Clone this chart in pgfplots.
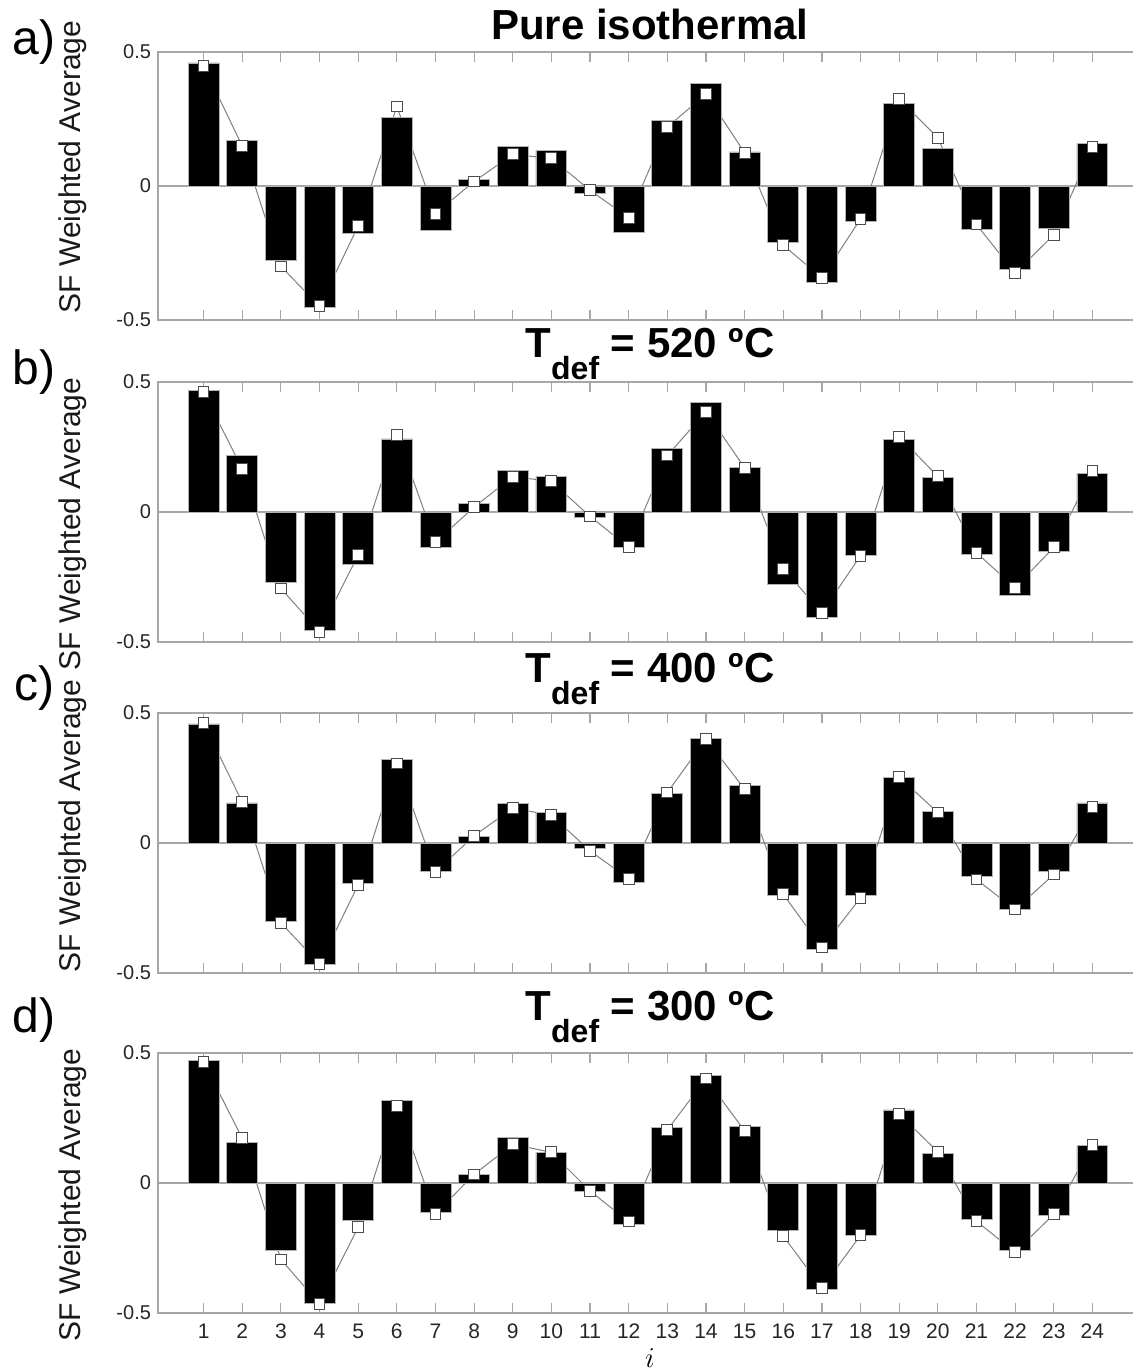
\documentclass[border=0pt]{standalone}
\usepackage{fontspec}
\setmainfont{Liberation Sans}
\usepackage{pgfplots}
\usepackage{pgfplotstable}
\pgfplotsset{compat=1.18}

\pgfplotstableread{
i bar sf
1 0.459 0.449
2 0.170 0.149
3 -0.277 -0.300
4 -0.454 -0.449
5 -0.178 -0.149
6 0.257 0.297
7 -0.165 -0.103
8 0.025 0.017
9 0.149 0.118
10 0.131 0.103
11 -0.026 -0.016
12 -0.172 -0.118
13 0.243 0.220
14 0.382 0.343
15 0.127 0.124
16 -0.209 -0.221
17 -0.358 -0.343
18 -0.133 -0.123
19 0.307 0.325
20 0.139 0.180
21 -0.163 -0.144
22 -0.310 -0.325
23 -0.159 -0.182
24 0.159 0.146
}\tA

\pgfplotstableread{
i bar sf
1 0.468 0.461
2 0.217 0.166
3 -0.269 -0.294
4 -0.454 -0.460
5 -0.203 -0.165
6 0.281 0.297
7 -0.136 -0.116
8 0.032 0.019
9 0.159 0.136
10 0.136 0.118
11 -0.022 -0.017
12 -0.135 -0.135
13 0.243 0.217
14 0.423 0.386
15 0.170 0.170
16 -0.279 -0.218
17 -0.406 -0.387
18 -0.167 -0.168
19 0.280 0.290
20 0.132 0.137
21 -0.163 -0.157
22 -0.322 -0.291
23 -0.150 -0.136
24 0.150 0.157
}\tB

\pgfplotstableread{
i bar sf
1 0.458 0.461
2 0.154 0.157
3 -0.301 -0.307
4 -0.465 -0.465
5 -0.156 -0.161
6 0.320 0.306
7 -0.108 -0.111
8 0.024 0.028
9 0.153 0.134
10 0.118 0.107
11 -0.022 -0.030
12 -0.152 -0.138
13 0.190 0.194
14 0.401 0.400
15 0.221 0.207
16 -0.201 -0.197
17 -0.411 -0.402
18 -0.203 -0.211
19 0.252 0.254
20 0.120 0.117
21 -0.127 -0.140
22 -0.257 -0.256
23 -0.108 -0.121
24 0.154 0.138
}\tC

\pgfplotstableread{
i bar sf
1 0.470 0.465
2 0.157 0.172
3 -0.258 -0.294
4 -0.464 -0.465
5 -0.144 -0.170
6 0.316 0.297
7 -0.112 -0.118
8 0.033 0.033
9 0.175 0.149
10 0.117 0.118
11 -0.033 -0.031
12 -0.161 -0.148
13 0.215 0.204
14 0.414 0.402
15 0.219 0.201
16 -0.183 -0.204
17 -0.410 -0.404
18 -0.202 -0.201
19 0.281 0.265
20 0.112 0.120
21 -0.141 -0.147
22 -0.258 -0.266
23 -0.123 -0.120
24 0.143 0.147
}\tD

\pgfplotsset{
  panel/.style={
    scale only axis, width=490pt,
    xmin=-0.18, xmax=25.18, ymin=-0.5, ymax=0.5,
    xtick={1,...,24}, ytick={-0.5,0,0.5},
    yticklabels={{-0.5},{0},{0.5}},
    tick align=inside, major tick length=5pt,
    ytick pos=left, xtick pos=both,
    tick style={draw=gray!70, line width=0.6pt},
    axis line style={draw=gray!70, line width=0.6pt},
    ymajorgrids, major grid style={draw=gray!70, line width=0.6pt},
    yticklabel style={font=\fontsize{10}{12}\selectfont, text=black!85},
    xticklabel style={font=\fontsize{10.5}{12}\selectfont, text=black!85, yshift=-2pt},
    /pgf/number format/assume math mode=true,
  },
  sfline/.style={draw=gray, line width=0.5pt, no marks},
  sfbar/.style={ybar, bar width=0.8, bar shift=0pt, fill=black, draw=gray!60, line width=0.4pt},
  sfmark/.style={only marks, mark=square*, mark size=2.7pt, mark options={fill=white, draw=black!70, line width=0.5pt}},
}

\newcommand{\ttl}[1]{\fontsize{21}{25}\selectfont\bfseries T\raisebox{-11pt}{\fontsize{16}{18}\selectfont def} = #1 ºC}

\begin{document}
\begin{tikzpicture}
% panel a
\begin{axis}[panel, at={(79pt,-160pt)}, anchor=south west, height=134pt, xticklabels={}]
\addplot[sfline] table[x=i, y=sf]{\tA};
\addplot[sfbar] table[x=i, y=bar]{\tA};
\addplot[sfmark] table[x=i, y=sf]{\tA};
\end{axis}
% panel b
\begin{axis}[panel, at={(79pt,-321pt)}, anchor=south west, height=130pt, xticklabels={}]
\addplot[sfline] table[x=i, y=sf]{\tB};
\addplot[sfbar] table[x=i, y=bar]{\tB};
\addplot[sfmark] table[x=i, y=sf]{\tB};
\end{axis}
% panel c
\begin{axis}[panel, at={(79pt,-486.5pt)}, anchor=south west, height=130pt, xticklabels={}]
\addplot[sfline] table[x=i, y=sf]{\tC};
\addplot[sfbar] table[x=i, y=bar]{\tC};
\addplot[sfmark] table[x=i, y=sf]{\tC};
\end{axis}
% panel d
\begin{axis}[panel, at={(79pt,-656.5pt)}, anchor=south west, height=130pt]
\addplot[sfline] table[x=i, y=sf]{\tD};
\addplot[sfbar] table[x=i, y=bar]{\tD};
\addplot[sfmark] table[x=i, y=sf]{\tD};
\end{axis}

% titles
\node[anchor=base] at (325pt,-19.5pt) {\fontsize{21}{25}\selectfont\bfseries Pure isothermal};
\node[anchor=base] at (325pt,-178.5pt) {\ttl{520}};
\node[anchor=base] at (325pt,-341pt) {\ttl{400}};
\node[anchor=base] at (325pt,-510pt) {\ttl{300}};

% y labels
\foreach \yy in {-83.5,-262,-413,-597.5}{
  \node[rotate=90, anchor=base, text=black!90] at (40pt,\yy pt) {\fontsize{15}{17}\selectfont SF Weighted Average};
}

% panel letters
\node at (17pt,-21pt) {\fontsize{24}{28}\selectfont a)};
\node at (17pt,-186pt) {\fontsize{24}{28}\selectfont b)};
\node at (17pt,-344pt) {\fontsize{24}{28}\selectfont c)};
\node at (17pt,-510pt) {\fontsize{24}{28}\selectfont d)};

% x label
\node at (325pt,-679pt) {\fontsize{15}{17}\selectfont $i$};

\pgfresetboundingbox
\path[use as bounding box] (0pt,0pt) rectangle (566.5pt,-686pt);
\end{tikzpicture}
\end{document}
